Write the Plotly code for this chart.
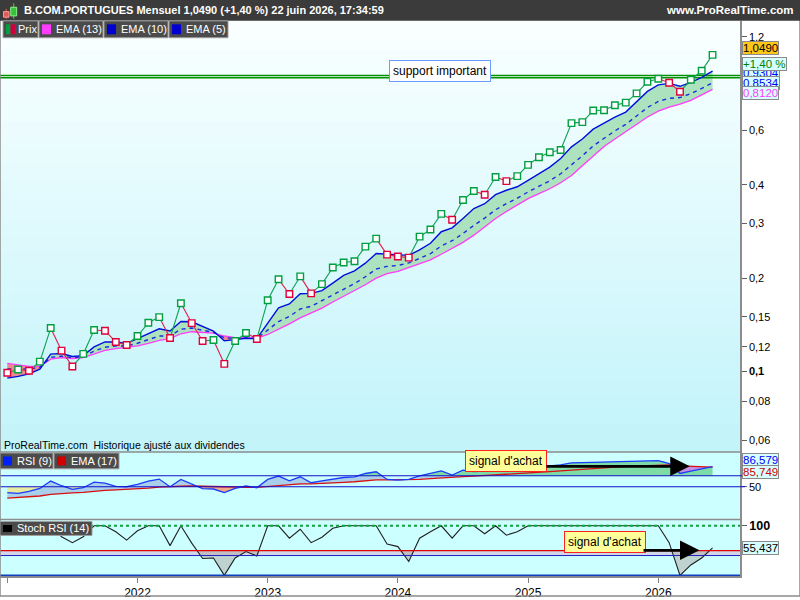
import math
import pandas as pd
import plotly.graph_objects as go

# monthly bars, Jan 2021 .. Jun 2026
months = pd.date_range("2021-01-01", periods=66, freq="MS").strftime("%b %Y").tolist()
idx = list(range(len(months)))

prev_close = 0.1005
close = [0.0990, 0.1015, 0.1005, 0.1076, 0.1380, 0.1167, 0.1037, 0.1139, 0.1360, 0.1353, 0.1245, 0.1217,
         0.1301, 0.1435, 0.1497, 0.1282, 0.1659, 0.1432, 0.1253, 0.1263, 0.1058, 0.1253, 0.1330, 0.1273,
         0.1696, 0.1982, 0.1777, 0.2025, 0.1786, 0.1913, 0.2164, 0.2245, 0.2267, 0.2526, 0.2680, 0.2381,
         0.2347, 0.2329, 0.2720, 0.2870, 0.3222, 0.3083, 0.3573, 0.3818, 0.3715, 0.4236, 0.4110, 0.4265,
         0.4635, 0.4906, 0.5090, 0.5177, 0.6318, 0.6365, 0.6938, 0.6950, 0.7215, 0.7360, 0.7883, 0.8592,
         0.8785, 0.8530, 0.7982, 0.8720, 0.9319, 1.0490]
day_change_pct = 1.40

ema5 = [0.0952, 0.0964, 0.0982, 0.1017, 0.1137, 0.1142, 0.1117, 0.1125, 0.1200, 0.1245, 0.1245, 0.1232,
        0.1276, 0.1326, 0.1373, 0.1350, 0.1449, 0.1446, 0.1401, 0.1350, 0.1255, 0.1269, 0.1279, 0.1276,
        0.1435, 0.1603, 0.1650, 0.1781, 0.1786, 0.1822, 0.1927, 0.2040, 0.2110, 0.2234, 0.2400, 0.2389,
        0.2371, 0.2367, 0.2465, 0.2589, 0.2822, 0.2905, 0.3113, 0.3351, 0.3474, 0.3714, 0.3840, 0.3940,
        0.4130, 0.4340, 0.4558, 0.4859, 0.5298, 0.5617, 0.6045, 0.6315, 0.6612, 0.6861, 0.7433, 0.8000,
        0.8395, 0.8492, 0.8307, 0.8558, 0.8880, 0.9304]
ema10 = [0.1019, 0.1016, 0.1018, 0.1031, 0.1110, 0.1121, 0.1107, 0.1115, 0.1163, 0.1197, 0.1207, 0.1208,
         0.1233, 0.1266, 0.1301, 0.1303, 0.1368, 0.1380, 0.1362, 0.1337, 0.1284, 0.1279, 0.1283, 0.1278,
         0.1359, 0.1449, 0.1504, 0.1590, 0.1622, 0.1692, 0.1764, 0.1850, 0.1920, 0.2020, 0.2140, 0.2181,
         0.2198, 0.2238, 0.2312, 0.2396, 0.2539, 0.2639, 0.2785, 0.2959, 0.3122, 0.3323, 0.3476, 0.3619,
         0.3793, 0.3956, 0.4120, 0.4339, 0.4633, 0.4958, 0.5339, 0.5662, 0.5966, 0.6261, 0.6681, 0.7095,
         0.7426, 0.7597, 0.7641, 0.7866, 0.8177, 0.8534]
ema13 = [0.1061, 0.1047, 0.1039, 0.1039, 0.1095, 0.1109, 0.1101, 0.1109, 0.1142, 0.1170, 0.1185, 0.1194,
         0.1209, 0.1232, 0.1260, 0.1276, 0.1323, 0.1343, 0.1340, 0.1330, 0.1301, 0.1285, 0.1285, 0.1279,
         0.1316, 0.1366, 0.1424, 0.1488, 0.1545, 0.1600, 0.1675, 0.1747, 0.1817, 0.1904, 0.2000, 0.2067,
         0.2102, 0.2165, 0.2226, 0.2289, 0.2387, 0.2495, 0.2608, 0.2751, 0.2932, 0.3113, 0.3278, 0.3443,
         0.3608, 0.3746, 0.3883, 0.4059, 0.4282, 0.4608, 0.4963, 0.5310, 0.5617, 0.5934, 0.6276, 0.6612,
         0.6909, 0.7115, 0.7276, 0.7486, 0.7791, 0.8120]
support = [0.885, 0.900]

rsi9 = [39.1, 37.8, 41.5, 46.9, 60.4, 51.8, 45.1, 48.2, 58.5, 56.7, 50.5, 50.0,
        54.2, 60.4, 64.0, 50.0, 63.3, 54.2, 46.4, 45.8, 39.1, 46.9, 51.3, 48.2,
        63.3, 69.5, 60.9, 68.2, 57.3, 60.9, 64.5, 66.9, 68.2, 74.2, 77.3, 63.3,
        62.2, 63.3, 70.0, 74.2, 79.1, 71.3, 80.4, 77.8, 78.5, 83.3, 80.4, 82.2,
        84.5, 86.4, 88.2, 90.0, 93.6, 94.2, 94.9, 95.5, 96.0, 96.7, 96.7, 97.3,
        97.8, 92.4, 74.2, 78.5, 82.7, 86.579]
rsi_ema17 = [29.1, 30.0, 31.3, 33.0, 36.0, 37.8, 38.6, 39.7, 41.8, 43.4, 44.2, 44.9,
             45.9, 47.5, 49.3, 49.4, 50.9, 51.3, 50.7, 50.2, 48.9, 48.7, 49.0, 48.9,
             50.5, 52.6, 53.5, 55.1, 55.3, 55.9, 56.9, 58.0, 59.1, 60.8, 62.6, 62.7,
             62.6, 62.7, 63.5, 64.7, 66.3, 66.9, 68.4, 69.4, 70.4, 71.8, 72.8, 73.8,
             75.0, 76.3, 77.6, 79.0, 80.6, 82.0, 83.4, 84.7, 85.9, 87.0, 87.9, 88.8,
             89.6, 89.9, 88.2, 87.1, 86.6, 85.749]
rsi_levels = [70, 50]

stoch_rsi14 = [90, 85, 95, 100, 100, 78, 66, 78, 100, 100, 88, 71,
               90, 100, 100, 60, 100, 65, 34, 35, 0, 35, 48, 39,
               100, 100, 75, 93, 66, 77, 95, 100, 100, 100, 100, 63,
               58, 28, 75, 88, 100, 75, 100, 100, 84, 100, 81, 88,
               100, 100, 100, 100, 100, 100, 100, 100, 100, 100, 100, 100,
               100, 66, 0, 21, 35, 55.437]
stoch_levels = [100, 50, 40, 0]

year_ticks = [0, 12, 24, 36, 48, 60]
year_labels = ["", "2022", "2023", "2024", "2025", "2026"]
price_ticks = [1.2, 0.6, 0.4, 0.3, 0.2, 0.15, 0.12, 0.1, 0.08, 0.06]
price_tick_labels = ["1,2", "0,6", "0,4", "0,3", "0,2", "0,15", "0,12", "<b>0,1</b>", "0,08", "0,06"]

W, H = 800, 600
FONT = "Arial, Liberation Sans, sans-serif"


def X(px):
    return px / W


def Y(py):
    return 1 - py / H


def fr(v, d):
    return f"{v:.{d}f}".replace(".", ",")


def band(a, b, sign):
    # polygons of the area between a and b where sign*(a-b) > 0
    polys = []
    cx, ca, cb = [], [], []
    n = len(a)
    for k in range(n):
        d = sign * (a[k] - b[k])
        if d > 0:
            cx.append(idx[k]); ca.append(a[k]); cb.append(b[k])
        if k < n - 1:
            d2 = sign * (a[k + 1] - b[k + 1])
            if (d > 0) != (d2 > 0) and d != d2:
                t = d / (d - d2)
                yc = b[k] + t * (b[k + 1] - b[k])
                cx.append(idx[k] + t); ca.append(yc); cb.append(yc)
                if d > 0:
                    polys.append((cx, ca, cb))
                    cx, ca, cb = [], [], []
    if cx:
        polys.append((cx, ca, cb))
    return polys


def add_fill(fig, polys, color, yaxis):
    for px_, pa, pb in polys:
        fig.add_trace(go.Scatter(x=px_ + px_[::-1], y=pa + pb[::-1], fill="toself",
                                 fillcolor=color, line=dict(width=0), mode="lines",
                                 hoverinfo="skip", yaxis=yaxis))


fig = go.Figure()

# ---- price panel ----
add_fill(fig, band(ema5, ema13, 1), "#ade2bf", "y")
add_fill(fig, band(ema5, ema13, -1), "#ee8a8e", "y")

for lvl in support:
    fig.add_trace(go.Scatter(x=[-1, 70], y=[lvl, lvl], mode="lines",
                             line=dict(color="#009000", width=1.6), hoverinfo="skip"))

fig.add_trace(go.Scatter(x=idx, y=ema13, mode="lines", line=dict(color="#ff3cff", width=1.3), name="EMA (13)"))
fig.add_trace(go.Scatter(x=idx, y=ema10, mode="lines", line=dict(color="#1a2ee0", width=1.4, dash="4px,4px"), name="EMA (10)"))
fig.add_trace(go.Scatter(x=idx, y=ema5, mode="lines", line=dict(color="#0010d8", width=1.4), name="EMA (5)"))

gx, gy, rx, ry = [], [], [], []
for k in range(1, len(close)):
    if close[k] >= close[k - 1]:
        gx += [idx[k - 1], idx[k], None]; gy += [close[k - 1], close[k], None]
    else:
        rx += [idx[k - 1], idx[k], None]; ry += [close[k - 1], close[k], None]
fig.add_trace(go.Scatter(x=gx, y=gy, mode="lines", line=dict(color="#10a050", width=1.1), hoverinfo="skip"))
fig.add_trace(go.Scatter(x=rx, y=ry, mode="lines", line=dict(color="#e0204a", width=1.1), hoverinfo="skip"))

up = [close[k] >= (close[k - 1] if k else prev_close) for k in range(len(close))]
mcol = ["#00a040" if u else "#e0003c" for u in up]
fig.add_trace(go.Scatter(x=idx, y=close, mode="markers", text=months, name="Prix",
                         marker=dict(symbol="square", size=6.5, color="white",
                                     line=dict(color=mcol, width=1.4))))

# ---- RSI panel ----
add_fill(fig, band(rsi9, [50] * len(rsi9), -1), "#e8eaa0", "y2")
add_fill(fig, band(rsi9, rsi_ema17, 1), "#a9cfea", "y2")
add_fill(fig, band(rsi9, [70] * len(rsi9), 1), "#7ddca6", "y2")
for p in band(rsi9, rsi_ema17, -1):
    col = "#c58ee0" if max(p[2]) > 70 else "#eeaa88"
    add_fill(fig, [p], col, "y2")
fig.add_trace(go.Scatter(x=idx, y=rsi_ema17, mode="lines", line=dict(color="#d81010", width=1.3), yaxis="y2", name="EMA (17)"))
fig.add_trace(go.Scatter(x=idx, y=rsi9, mode="lines", line=dict(color="#1a3cff", width=1.3), yaxis="y2", name="RSI (9)"))

# ---- Stoch RSI panel ----
add_fill(fig, band(stoch_rsi14, [50] * len(stoch_rsi14), -1), "rgba(175,165,160,0.5)", "y3")
fig.add_trace(go.Scatter(x=idx, y=stoch_rsi14, mode="lines", line=dict(color="#202020", width=1.1), yaxis="y3", name="Stoch RSI (14)"))

shapes = []
# gradient background of the price panel
nb = 30
top, bot = (249, 255, 255), (194, 244, 250)
for k in range(nb):
    t = k / (nb - 1)
    c = tuple(round(top[j] + t * (bot[j] - top[j])) for j in range(3))
    y0 = 21 + k * 434 / nb
    shapes.append(dict(type="rect", xref="paper", yref="paper", x0=0, x1=X(740),
                       y0=Y(y0 + 434 / nb + 0.6), y1=Y(y0), fillcolor=f"rgb{c}", line_width=0, layer="below"))

shapes.append(dict(type="rect", xref="paper", yref="y3", x0=0, x1=X(740), y0=40, y1=50,
                   fillcolor="#d2d6e8", line_width=0, layer="below"))

for lvl in rsi_levels:
    shapes.append(dict(type="line", xref="paper", yref="y2", x0=0, x1=X(745), y0=lvl, y1=lvl,
                       line=dict(color="#1010c8", width=1.1)))
stoch_styles = {100: dict(color="#10a040", width=2, dash="dot"), 50: dict(color="#e00000", width=1.3),
                40: dict(color="#2020c0", width=1), 0: dict(color="#1040c0", width=1.6)}
for lvl in stoch_levels:
    shapes.append(dict(type="line", xref="paper", yref="y3", x0=0, x1=X(740), y0=lvl, y1=lvl,
                       line=stoch_styles[lvl]))

# panel separators and frame
for py in [455, 523]:
    shapes.append(dict(type="line", xref="paper", yref="paper", x0=0, x1=X(740), y0=Y(py), y1=Y(py),
                       line=dict(color="#8c8c8c", width=1.5)))
shapes.append(dict(type="rect", xref="paper", yref="paper", x0=0, x1=1, y0=0, y1=1,
                   line=dict(color="#8c8c8c", width=1.5)))

# header bar
shapes.append(dict(type="rect", xref="paper", yref="paper", x0=0, x1=1, y0=Y(21), y1=1,
                   fillcolor="#3b3b3b", line_width=0))
# candle icon
shapes += [
    dict(type="line", xref="paper", yref="paper", x0=X(6.2), x1=X(6.2), y0=Y(19), y1=Y(9), line=dict(color="#e06060", width=1)),
    dict(type="rect", xref="paper", yref="paper", x0=X(3.5), x1=X(9), y0=Y(17.3), y1=Y(11.7), fillcolor="#e05a5a", line=dict(color="#ff9a9a", width=1)),
    dict(type="line", xref="paper", yref="paper", x0=X(13.7), x1=X(13.7), y0=Y(19), y1=Y(3.3), line=dict(color="#40d040", width=1)),
    dict(type="rect", xref="paper", yref="paper", x0=X(10.7), x1=X(16.7), y0=Y(16), y1=Y(7.3), fillcolor="#38c038", line=dict(color="#90f090", width=1)),
]

annotations = [
    dict(text=f"B.COM.PORTUGUES Mensuel {fr(close[-1], 4)} (+{fr(day_change_pct, 2)} %) 22 juin 2026, 17:34:59",
         xref="paper", yref="paper", x=X(22), y=Y(10.5), xanchor="left", yanchor="middle", showarrow=False,
         font=dict(family=FONT, size=11, color="white", weight="bold")),
    dict(text="www.ProRealTime.com", xref="paper", yref="paper", x=X(796), y=Y(10.5), xanchor="right",
         yanchor="middle", showarrow=False, font=dict(family=FONT, size=11.5, color="white", weight="bold")),
    dict(text="ProRealTime.com  Historique ajusté aux dividendes", xref="paper", yref="paper", x=X(2),
         y=Y(448), xanchor="left", yanchor="middle", showarrow=False, font=dict(family=FONT, size=10.5, color="black")),
]


def legend_box(x0, x1, y0, y1, label, colors, tx=15):
    shapes.append(dict(type="rect", xref="paper", yref="paper", x0=X(x0), x1=X(x1), y0=Y(y1), y1=Y(y0),
                       fillcolor="#4b4b4b", line=dict(color="#a0a0a0", width=1)))
    w = 9 / len(colors)
    for j, c in enumerate(colors):
        shapes.append(dict(type="rect", xref="paper", yref="paper", x0=X(x0 + 3 + j * w), x1=X(x0 + 3 + (j + 1) * w),
                           y0=Y(y1 - 3.5), y1=Y(y0 + 3.5), fillcolor=c, line_width=0))
    annotations.append(dict(text=label, xref="paper", yref="paper", x=X(x0 + tx), y=Y((y0 + y1) / 2),
                            xanchor="left", yanchor="middle", showarrow=False,
                            font=dict(family=FONT, size=11, color="white")))


legend_box(3, 38, 21, 38, "Prix", ["#00a040", "#d0003c"], tx=13)
legend_box(39, 103, 21, 38, "EMA (13)", ["#ff3cff"])
legend_box(104, 168, 21, 38, "EMA (10)", ["#0000d0"])
legend_box(169, 228, 21, 38, "EMA (5)", ["#0000d0"])
legend_box(0, 53, 456, 472, "RSI (9)", ["#0020ff"])
legend_box(54, 119, 456, 472, "EMA (17)", ["#d00000"])
legend_box(0, 92, 525, 539, "Stoch RSI (14)", ["#000000"])


def side_label(text, yref, yval, yshift, color, bg="#d8ffff"):
    annotations.append(dict(text=text, xref="paper", yref=yref, x=X(742), y=yval, yshift=yshift,
                            xanchor="left", yanchor="middle", showarrow=False, bgcolor=bg,
                            bordercolor="#8a8a8a", borderwidth=1, borderpad=0,
                            font=dict(family=FONT, size=11.5, color=color)))


side_label(fr(ema5[-1], 4), "y", math.log10(ema5[-1]), -2, "#0000ff")
side_label(fr(ema10[-1], 4), "y", math.log10(ema10[-1]), 0, "#0000ff")
side_label(fr(ema13[-1], 4), "y", math.log10(ema13[-1]), -3.5, "#ff3cff")
side_label(fr(close[-1], 4), "y", math.log10(close[-1]), 6.5, "black", bg="#ffc61a")
side_label(f"+{fr(day_change_pct, 2)} %", "y", math.log10(close[-1]), -8.7, "#008000")
side_label(fr(rsi9[-1], 3), "y2", rsi9[-1], 6.5, "#0000ff")
side_label(fr(rsi_ema17[-1], 3), "y2", rsi_ema17[-1], -5.2, "#d00000")
side_label(fr(stoch_rsi14[-1], 3), "y3", stoch_rsi14[-1], 0, "black")

box = dict(showarrow=False, bgcolor="#ffff99", bordercolor="#ff2020", borderwidth=1, borderpad=3,
           font=dict(family=FONT, size=12, color="black"))
annotations.append(dict(text="support important", xref="x", yref="y", x=39.9, y=math.log10(support[1]),
                        yshift=5, bgcolor="white", bordercolor="#6a9cff", borderwidth=1, borderpad=3,
                        showarrow=False, font=dict(family=FONT, size=12, color="black")))
annotations.append(dict(text="signal d'achat", xref="x", yref="y2", x=46.0, y=97.3, **box))
annotations.append(dict(text="signal d'achat", xref="x", yref="y3", x=55.05, y=67.6, **box))
arrow = dict(text="", showarrow=True, arrowhead=2, arrowsize=1.5, arrowwidth=2.6, arrowcolor="black", standoff=0)
annotations.append(dict(xref="x", yref="y2", axref="x", ayref="y2", x=62.9, y=87.3, ax=49.56, ay=87.3, **arrow))
annotations.append(dict(xref="x", yref="y3", axref="x", ayref="y3", x=63.8, y=50.5, ax=58.5, ay=50.5, **arrow))

axis_common = dict(side="right", anchor="x", showgrid=False, zeroline=False, ticks="outside", ticklen=5,
                   tickcolor="#606060", showline=True, linecolor="#8c8c8c", linewidth=1.5,
                   tickfont=dict(family=FONT, size=11, color="black"))

fig.update_layout(
    width=W, height=H, margin=dict(l=0, r=0, t=0, b=0),
    paper_bgcolor="white", plot_bgcolor="#ccffff", showlegend=False,
    font=dict(family=FONT),
    xaxis=dict(domain=[0, X(740)], range=[-0.673, 67.53], anchor="y3", tickvals=year_ticks,
               ticktext=year_labels, ticks="outside", ticklen=5, tickcolor="#808080", showgrid=False,
               zeroline=False, showline=True, linecolor="#8c8c8c", linewidth=1.5,
               tickfont=dict(family=FONT, size=12, color="black")),
    yaxis=dict(domain=[Y(455), Y(21)], type="log", range=[math.log10(0.0550), math.log10(1.3504)],
               tickvals=price_ticks, ticktext=price_tick_labels, **axis_common),
    yaxis2=dict(domain=[Y(523), Y(455)], range=[-10, 113.6], tickvals=[50], ticktext=["50"], **axis_common),
    yaxis3=dict(domain=[Y(580), Y(523)], range=[-1.5, 112.6], tickvals=[100], ticktext=["<b>100</b>"],
                **{**axis_common, "tickfont": dict(family=FONT, size=12.5, color="black")}),
    shapes=shapes, annotations=annotations,
)

fig.write_html("out.html", config={"displayModeBar": False},
               post_script="document.body.style.margin='0';document.body.style.overflow='hidden';")
